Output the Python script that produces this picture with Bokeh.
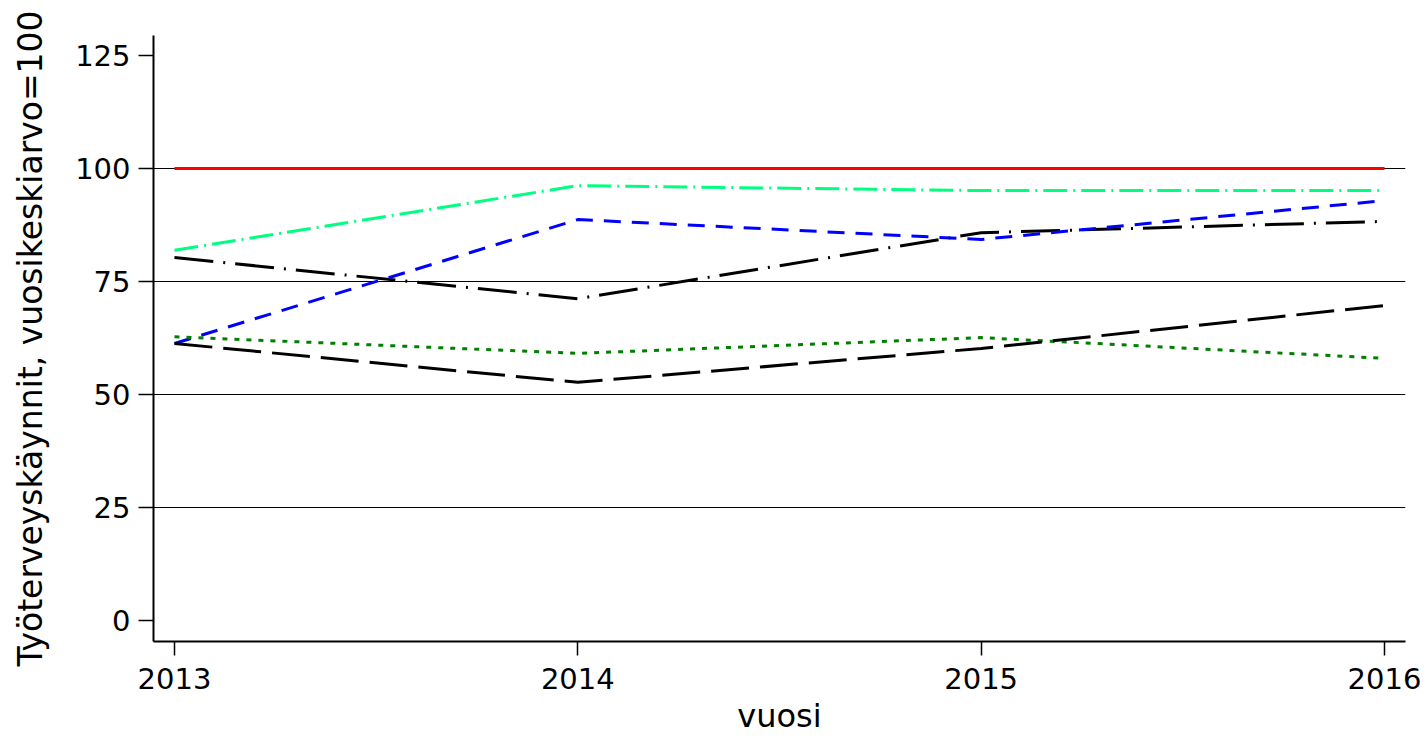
from bokeh.plotting import figure
from bokeh.models import FixedTicker, Range1d, Title
from bokeh.embed import file_html
from bokeh.resources import INLINE

years = [2013, 2014, 2015, 2016]
s_red = [100, 100, 100, 100]
s_spring = [81.9, 96.2, 95.1, 95.1]
s_blue = [61.3, 88.7, 84.3, 92.9]
s_black_dashdot = [80.3, 71.2, 85.8, 88.3]
s_green_dot = [62.8, 59.1, 62.6, 58.0]
s_black_longdash = [61.3, 52.7, 60.2, 69.7]

y_ticks = [0, 25, 50, 75, 100, 125]
grid_ticks = [25, 50, 75, 100]
x_ticks = [2013, 2014, 2015, 2016]
x_title = "vuosi"
y_title = "Työterveyskäynnit, vuosikeskiarvo=100"

FONT = "DejaVu Sans"

p = figure(width=1424, height=743, output_backend="svg", toolbar_location=None,
           x_range=Range1d(2012.948, 2016.052), y_range=Range1d(-4.6, 129.4),
           min_border_left=153, min_border_right=19, min_border_top=35, min_border_bottom=102)
p.outline_line_color = None
p.background_fill_color = "white"
p.border_fill_color = "white"

p.line(years, s_red, line_color="#FF0000", line_width=3)
p.line(years, s_spring, line_color="#00FF80", line_width=3, line_dash="24 6 2 6")
p.line(years, s_black_dashdot, line_color="black", line_width=3, line_dash="39 10 2 10")
p.line(years, s_blue, line_color="#0000FF", line_width=3, line_dash="17 11")
p.line(years, s_green_dot, line_color="#008000", line_width=3, line_dash="5 7")
p.line(years, s_black_longdash, line_color="black", line_width=3, line_dash="38 11")

p.xgrid.grid_line_color = None
p.ygrid.ticker = FixedTicker(ticks=grid_ticks)
p.ygrid.grid_line_color = "black"
p.ygrid.grid_line_width = 1

for ax in (p.xaxis[0], p.yaxis[0]):
    ax.axis_line_width = 2
    ax.axis_line_color = "black"
    ax.major_tick_line_width = 1.5
    ax.major_tick_line_color = "black"
    ax.major_tick_in = 0
    ax.minor_tick_line_color = None
    ax.major_label_text_font = FONT
    ax.major_label_text_font_size = "29px"
    ax.major_label_text_color = "black"
    ax.axis_label_text_font = FONT
    ax.axis_label_text_font_style = "normal"
    ax.axis_label_text_color = "black"

p.yaxis.ticker = FixedTicker(ticks=y_ticks)
p.yaxis.major_tick_out = 15
p.yaxis.major_label_standoff = 8
p.yaxis.axis_label = y_title
p.yaxis.axis_label_text_font_size = "33px"
p.yaxis.axis_label_standoff = 22

p.xaxis.ticker = FixedTicker(ticks=x_ticks)
p.xaxis.major_tick_out = 14
p.xaxis.major_label_standoff = 12

p.add_layout(Title(text=x_title, align="center", text_font=FONT, text_font_size="32px",
                   text_font_style="normal", text_color="black", standoff=6,
                   vertical_align="bottom"), "below")

open("out.html", "w").write(file_html(p, INLINE))
